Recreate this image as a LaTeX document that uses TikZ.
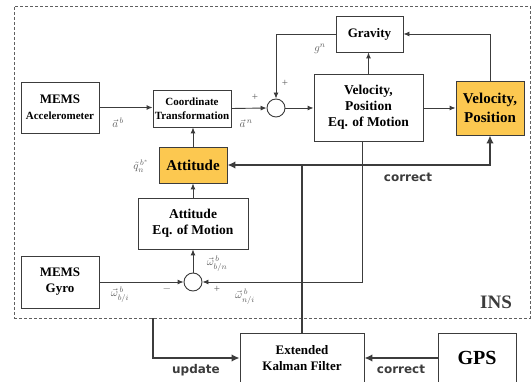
\documentclass[tikz,border=0pt]{standalone}
\usepackage{amsmath}
\usepackage{fontspec}
\setmainfont{Liberation Serif}
\newfontfamily\tagfont{DejaVu Sans}
\usetikzlibrary{arrows.meta, positioning}
\definecolor{insline}{RGB}{60,60,60}
\definecolor{insgray}{RGB}{95,95,95}
\definecolor{insorange}{RGB}{252,200,80}
\tikzset{
  blk/.style={rectangle, draw=insline, line width=0.9pt, fill=white,
              align=center, inner sep=1pt,
              font=\bfseries\fontsize{13}{16}\selectfont},
  hibox/.style={blk, fill=insorange, font=\bfseries\fontsize{15}{19.5}\selectfont},
  sumnode/.style={circle, draw=insline, line width=0.9pt, fill=white,
                  minimum size=18pt, inner sep=0pt},
  flow/.style={-{Latex[length=6pt,width=5pt]}, line width=0.9pt, draw=insline},
  flowthick/.style={-{Latex[length=8pt,width=7.5pt]}, line width=1.6pt, draw=insline},
  sig/.style={text=insgray, inner sep=0pt, font=\fontsize{11}{13}\selectfont},
  tag/.style={inner sep=0pt, text=insline, font=\tagfont\bfseries\fontsize{12}{14}\selectfont},
}

\begin{document}
\begin{tikzpicture}[x=1pt, y=-1pt]
  \useasboundingbox (0,0) rectangle (531,382);
  \clip (0,0) rectangle (531,382);
  % INS region
  \node[draw=insgray, densely dashed, line width=0.9pt, minimum width=516pt,
        minimum height=312pt, inner sep=0pt] (ins) at (272,162) {};
  \node[font=\bfseries\fontsize{19}{22}\selectfont, inner sep=0pt,
        text=insline] (inslabel) at (496,302) {INS};

  % blocks
  \node[blk, minimum width=78pt, minimum height=51pt] (acc) at (60,107.5)
       {MEMS\\{\fontsize{11}{13}\selectfont Accelerometer}};
  \node[blk, minimum width=78pt, minimum height=37pt,
        font=\bfseries\fontsize{11}{14}\selectfont] (ct) at (192,108.5)
       {Coordinate\\Transformation};
  \node[hibox, minimum width=68pt, minimum height=36pt] (att) at (193,165) {Attitude};
  \node[blk, minimum width=110pt, minimum height=51pt,
        font=\bfseries\fontsize{13.5}{16.5}\selectfont] (atteom) at (193,223.5)
       {Attitude\\Eq. of Motion};
  \node[blk, minimum width=78pt, minimum height=52pt] (gyro) at (60,282) {MEMS\\Gyro};
  \node[sumnode] (sumb) at (193,282) {};
  \node[sumnode] (suma) at (276,108) {};
  \node[blk, minimum width=67pt, minimum height=36pt] (grav) at (369.5,34) {Gravity};
  \node[blk, minimum width=109pt, minimum height=67pt,
        font=\bfseries\fontsize{13.5}{16}\selectfont] (vpeom) at (368.5,107.5)
       {Velocity,\\Position\\Eq. of Motion};
  \node[hibox, minimum width=68pt, minimum height=54pt] (vp) at (490,108)
       {Velocity,\\Position};
  \node[blk, minimum width=124pt, minimum height=50pt] (ekf) at (302,358)
       {Extended\\Kalman Filter};
  \node[blk, minimum width=78pt, minimum height=50pt,
        font=\bfseries\fontsize{20}{24}\selectfont] (gps) at (477,358) {GPS};

  % thin signal flow
  \draw[flow] (acc.east) -- (acc.east -| ct.west);
  \draw[flow] (ct.east) -- (suma.west);
  \draw[flow] (grav.west) -| (suma.north);
  \draw[flow] (suma.east) -- (vpeom.west |- suma.east);
  \draw[flow] (vpeom.north) -- (vpeom.north |- grav.south);
  \draw[flow] (vpeom.east |- vp.west) -- (vp.west);
  \draw[flow] (vp.north) |- (grav.east);
  \draw[flow] (att.north) -- (att.north |- ct.south);
  \draw[flow] (atteom.north) -- (att.south);
  \draw[flow] (sumb.north) -- (atteom.south);
  \draw[flow] (gyro.east |- sumb.west) -- (sumb.west);
  \draw[flow] ([xshift=-6.5pt]vpeom.south) |- (sumb.east);

  % Kalman filter loop
  \coordinate (cj) at (ekf.north |- att.east);
  \coordinate (updsrc) at ([xshift=-119pt]ins.south);
  \draw[flowthick] (ekf.north) -- (cj) -- (att.east);
  \draw[flowthick] (cj) -| (vp.south);
  \draw[flowthick] (updsrc) |- (ekf.west);
  \draw[flowthick] (gps.west) -- (ekf.east);

  % signal labels
  \node[sig] (ab) at (118,123) {$\vec{a}^{\,b}$};
  \node[sig] (an) at (246,124) {$\vec{a}^{\,n}$};
  \node[sig] (plusa) at (255,97) {+};
  \node[sig] (gn) at (320,49) {$g^{n}$};
  \node[sig] (plusg) at (285,83) {+};
  \node[sig] (qnb) at (141,166) {$\tilde{q}_{n}^{\,b^{*}}$};
  \node[sig] (wbn) at (217,264) {$\vec{\omega}^{\,b}_{b/n}$};
  \node[sig] (wbi) at (120,295) {$\vec{\omega}^{\,b}_{b/i}$};
  \node[sig] (minus) at (167,289) {$-$};
  \node[sig] (plusb) at (217,289) {+};
  \node[sig] (wni) at (245,297) {$\vec{\omega}^{\,b}_{n/i}$};
  \node[tag] (tcorr) at (408,177) {correct};
  \node[tag] (tupd) at (196,370) {update};
  \node[tag] (tgps) at (401,369) {correct};
\end{tikzpicture}
\end{document}
